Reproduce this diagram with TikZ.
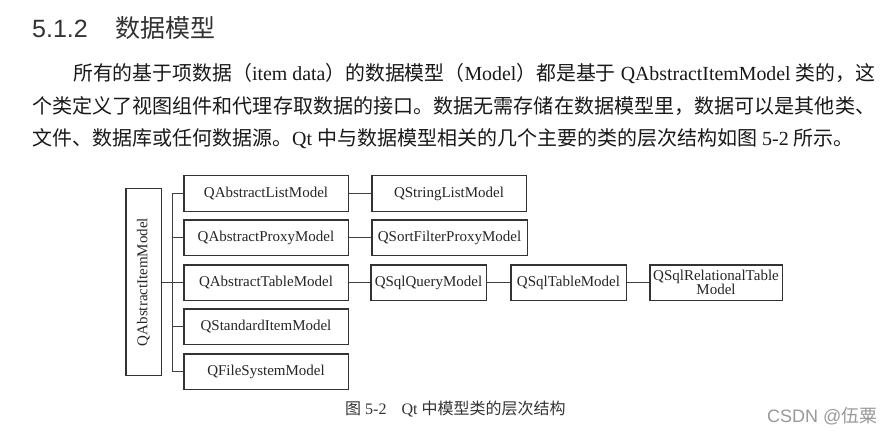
\documentclass[tikz,border=0pt]{standalone}
\usepackage{fontspec}
\usepackage{graphicx}
\setmainfont{Liberation Serif}
\newfontfamily\cjk{Noto Sans CJK SC}
\newfontfamily\hsans{Liberation Sans}
\newcommand\C[1]{{\cjk #1}}
\tikzset{
  cls/.style={draw=black!80, line width=1.5pt, inner sep=0pt, text=black!85,
              font=\fontsize{15}{13}\selectfont, align=center, minimum height=35.5pt},
  link/.style={draw=black!75, line width=0.9pt},
  body/.style={anchor=base west, inner sep=0pt, text=black!90, font=\fontsize{20}{20}\selectfont}
}
\begin{document}
\begin{tikzpicture}[x=1pt,y=-1pt]
\useasboundingbox[fill=white] (0,0) rectangle (892,433);

% heading
\node[anchor=base west, inner sep=0pt, text=black!80, font=\hsans\fontsize{25}{25}\selectfont] (hnum) at (32,38) {5.1.2};
\node[anchor=base west, inner sep=0pt, text=black!80, font=\cjk\fontsize{25}{25}\selectfont] (htxt) at (115,38) {数据模型};

% body
\node[body] (l1) at (73,81) {\resizebox{802pt}{\height}{\C{所有的基于项数据（}item data\C{）的数据模型（}Model\C{）都是基于} QAbstractItemModel \C{类的，这}}};
\node[body] (l2) at (32,113.5) {\resizebox{843pt}{\height}{\C{个类定义了视图组件和代理存取数据的接口。数据无需存储在数据模型里，数据可以是其他类、}}};
\node[body] (l3) at (32,146) {\C{文件、数据库或任何数据源。}Qt \C{中与数据模型相关的几个主要的类的层次结构如图} 5-2 \C{所示。}};

% diagram
\node[cls, minimum width=35.5pt, minimum height=186.5pt] (item) at (143.5,282) {\rotatebox{90}{QAbstractItemModel}};

\node[cls, minimum width=164.5pt] (alm) at (266,193.5) {QAbstractListModel};
\node[cls, minimum width=164.5pt] (apm) at (266,237.5) {QAbstractProxyModel};
\node[cls, minimum width=164.5pt] (atm) at (266,282.5) {QAbstractTableModel};
\node[cls, minimum width=164.5pt] (sim) at (266,326.5) {QStandardItemModel};
\node[cls, minimum width=164.5pt] (fsm) at (266,371.5) {QFileSystemModel};

\node[cls, minimum width=154.5pt] (slm) at (449,193.5) {QStringListModel};
\node[cls, minimum width=155.5pt] (sfp) at (449.5,237.5) {QSortFilterProxyModel};
\node[cls, minimum width=115.5pt] (sqm) at (428.5,282.5) {QSqlQueryModel};
\node[cls, minimum width=115.5pt] (stm) at (568.5,282.5) {QSqlTableModel};
\node[cls, minimum width=132.5pt] (srm) at (716,282.5) {QSqlRelationalTable\\Model};

\coordinate (tr) at (172,0);
\draw[link] (item.east) -- (item.east -| tr);
\draw[link] (alm.west) -- (alm.west -| tr) |- (fsm.west);
\draw[link] (apm.west) -- (apm.west -| tr);
\draw[link] (atm.west) -- (atm.west -| tr);
\draw[link] (sim.west) -- (sim.west -| tr);

\draw[link] (alm.east) -- (slm.west);
\draw[link] (apm.east) -- (sfp.west);
\draw[link] (atm.east) -- (sqm.west);
\draw[link] (sqm.east) -- (stm.west);
\draw[link] (stm.east) -- (srm.west);

% caption
\node[anchor=base west, inner sep=0pt, text=black!80, font=\fontsize{16}{16}\selectfont] (cap) at (345,414)
  {\C{图}\hspace{4pt}5-2\hspace{15pt}Qt \C{中模型类的层次结构}};

% watermark
\node[anchor=base west, inner sep=0pt, text=black!40, font=\hsans\fontsize{18}{18}\selectfont] (wm) at (767,422) {CSDN @\C{伍粟}};
\end{tikzpicture}
\end{document}
